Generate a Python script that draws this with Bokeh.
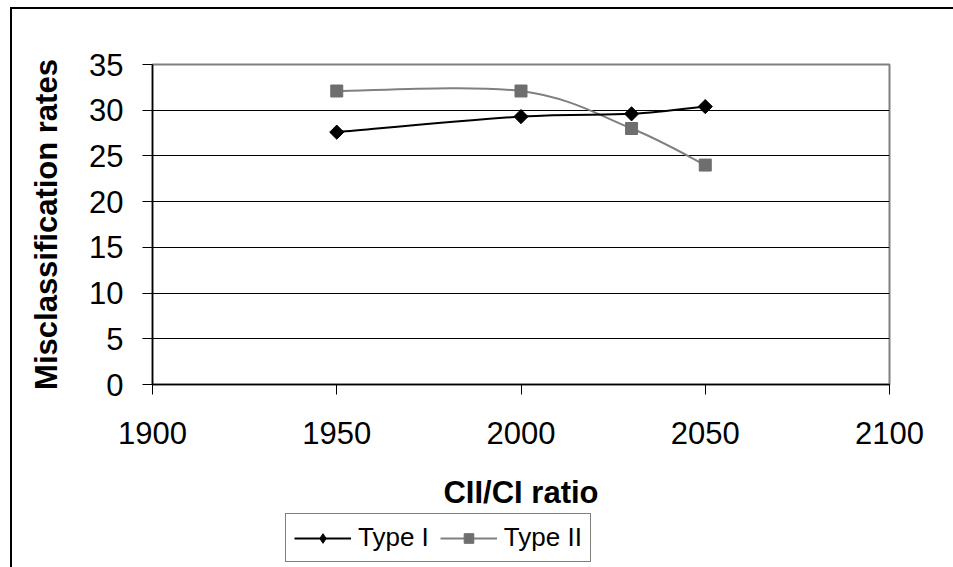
import math
from bokeh.plotting import figure
from bokeh.layouts import column
from bokeh.models import Legend, LegendItem, FixedTicker, ColumnDataSource
from bokeh.embed import file_html
from bokeh.resources import INLINE

# ---- data ----
ratio = [1950, 2000, 2030, 2050]
type1 = [27.6, 29.3, 29.6, 30.4]
type2 = [32.1, 32.1, 28.0, 24.0]
x_ticks = [1900, 1950, 2000, 2050, 2100]
y_ticks = [0, 5, 10, 15, 20, 25, 30, 35]
x_title = "CII/CI ratio"
y_title = "Misclassification rates"
series_names = ["Type I", "Type II"]

FONT = "Liberation Sans"

p = figure(width=941, height=558, output_backend="svg", toolbar_location=None,
           x_range=(1900, 2100), y_range=(0, 35),
           min_border_left=140, min_border_right=64, min_border_top=55, min_border_bottom=183)

p.background_fill_color = "white"
p.border_fill_color = "white"
p.outline_line_color = "#808080"
p.outline_line_width = 2

# grid
p.xgrid.visible = False
p.ygrid.ticker = FixedTicker(ticks=y_ticks)
p.ygrid.grid_line_color = "black"
p.ygrid.grid_line_width = 1

# axes
for ax in (p.xaxis[0], p.yaxis[0]):
    ax.axis_line_color = "black"
    ax.axis_line_width = 1.5
    ax.major_tick_line_color = "black"
    ax.major_tick_in = 0
    ax.major_tick_out = 10
    ax.minor_tick_line_color = None
    ax.major_label_text_font = FONT
    ax.major_label_text_font_size = "31px"
    ax.major_label_text_color = "black"
    ax.axis_label_text_font = FONT
    ax.axis_label_text_font_size = "31px"
    ax.axis_label_text_font_style = "bold"
    ax.axis_label_text_color = "black"

p.xaxis.ticker = FixedTicker(ticks=x_ticks)
p.yaxis.ticker = FixedTicker(ticks=y_ticks)
p.xaxis.axis_label = x_title
p.yaxis.axis_label = y_title
p.xaxis.major_label_standoff = 27
p.yaxis.major_label_standoff = 19
p.xaxis.axis_label_standoff = 28
p.yaxis.axis_label_standoff = 22


def smooth(xs, ys):
    n = len(xs)
    d = dict(x0=[], y0=[], x1=[], y1=[], cx0=[], cy0=[], cx1=[], cy1=[])
    for i in range(n - 1):
        a = i - 1 if i > 0 else i
        b = i + 2 if i + 2 < n else i + 1
        d["x0"].append(xs[i]); d["y0"].append(ys[i])
        d["x1"].append(xs[i + 1]); d["y1"].append(ys[i + 1])
        d["cx0"].append(xs[i] + (xs[i + 1] - xs[a]) / 6)
        d["cy0"].append(ys[i] + (ys[i + 1] - ys[a]) / 6)
        d["cx1"].append(xs[i + 1] - (xs[b] - xs[i]) / 6)
        d["cy1"].append(ys[i + 1] - (ys[b] - ys[i]) / 6)
    return ColumnDataSource(d)


c1, c2 = "black", "#808080"
m2 = "#6e6e6e"

p.bezier(x0="x0", y0="y0", x1="x1", y1="y1", cx0="cx0", cy0="cy0", cx1="cx1", cy1="cy1",
         source=smooth(ratio, type2), line_color=c2, line_width=2)
p.bezier(x0="x0", y0="y0", x1="x1", y1="y1", cx0="cx0", cy0="cy0", cx1="cx1", cy1="cy1",
         source=smooth(ratio, type1), line_color=c1, line_width=2)

p.scatter(ratio, type2, marker="square", size=12, fill_color=m2, line_color=m2)
p.scatter(ratio, type1, marker="square", angle=math.pi / 4, size=10,
          fill_color="black", line_color="black")

# ---- legend strip: a second figure with the same frame, overlapped under the x title ----
p2 = figure(width=941, height=50, output_backend="svg", toolbar_location=None,
            x_range=(0, 1), y_range=(0, 1), x_axis_type=None, y_axis_type=None,
            min_border_left=140, min_border_right=64, min_border_top=0, min_border_bottom=0)
p2.outline_line_color = None
p2.xgrid.visible = False
p2.ygrid.visible = False
p2.background_fill_color = None
p2.border_fill_color = None

l1 = p2.line([5, 6], [5, 5], line_color=c1, line_width=2)
l2 = p2.line([5, 6], [5, 5], line_color=c2, line_width=2)
k1 = p2.scatter([5], [5], marker="diamond", fill_color="black", line_color="black")
k2 = p2.scatter([5], [5], marker="square", fill_color=m2, line_color=m2)

legend = Legend(items=[LegendItem(label=series_names[0], renderers=[l1, k1]),
                       LegendItem(label=series_names[1], renderers=[l2, k2])],
                orientation="horizontal", location=(133, 1),
                label_text_font=FONT, label_text_font_size="26px", label_text_color="black",
                glyph_width=57, glyph_height=24, label_standoff=7, spacing=11,
                padding=8, margin=0, border_line_color="black", border_line_width=1.5,
                background_fill_color="white", background_fill_alpha=1)
p2.add_layout(legend, "center")
p2.styles = {"margin-top": "-54px"}

layout = column(p, p2, spacing=0)
layout.styles = {"margin-left": "10px", "margin-top": "7px", "padding-bottom": "20px",
                 "border-left": "2px solid black", "border-top": "2px solid black"}

open("out.html", "w").write(file_html(layout, INLINE))
